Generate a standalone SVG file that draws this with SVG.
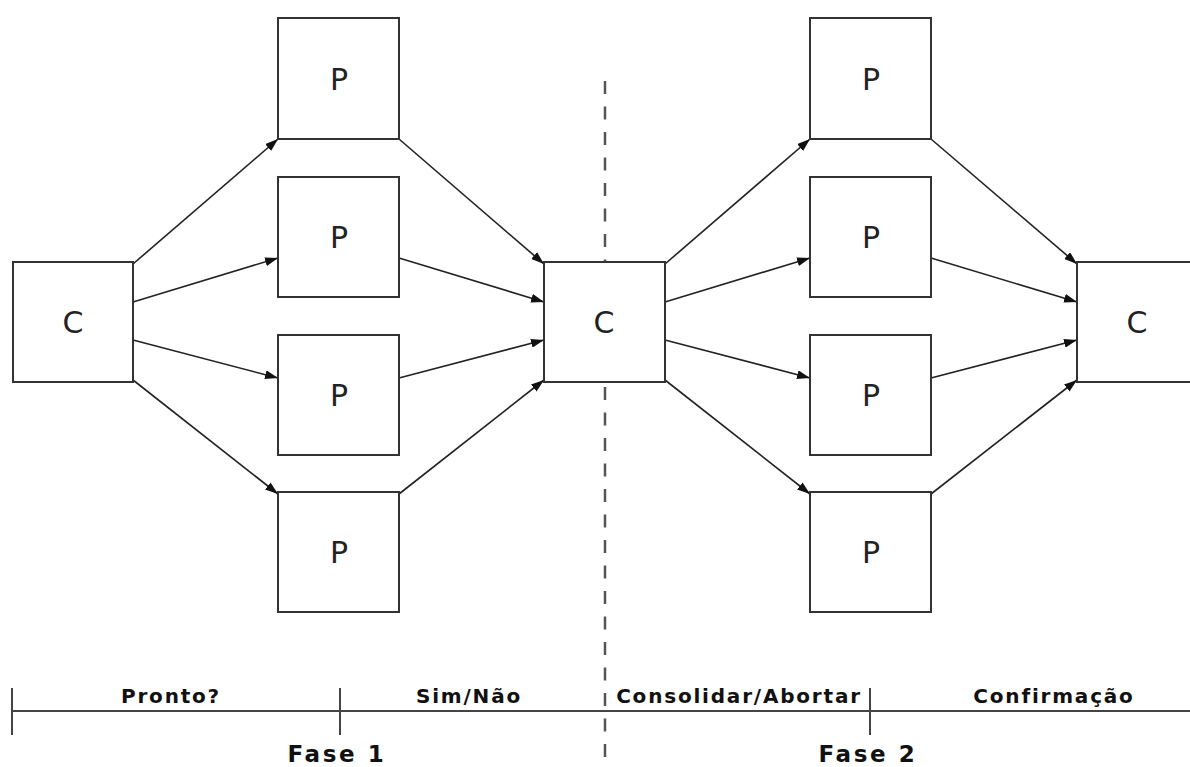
<svg xmlns="http://www.w3.org/2000/svg" width="1190" height="767" viewBox="0 0 1190 767">
  <style>
    .box { fill: #ffffff; stroke: #333333; stroke-width: 2; }
    .lbl { font-family: "DejaVu Sans", "Liberation Sans", sans-serif; font-size: 30px; fill: #222222; text-anchor: middle; }
    .edge { stroke: #222222; stroke-width: 1.6; fill: none; marker-end: url(#arrow); }
    .axis { stroke: #444444; stroke-width: 2; fill: none; }
    .phase { font-family: "DejaVu Sans", "Liberation Sans", sans-serif; font-weight: bold; font-size: 20px; letter-spacing: 1.8px; fill: #111111; text-anchor: middle; }
    .fase { font-family: "DejaVu Sans", "Liberation Sans", sans-serif; font-weight: bold; font-size: 23px; letter-spacing: 2.6px; fill: #111111; text-anchor: middle; }
    .split { stroke: #555555; stroke-width: 2.5; stroke-dasharray: 13 12.5; fill: none; }
  </style>
  <defs>
    <marker id="arrow" viewBox="0 0 13 9" refX="13" refY="4.5" markerWidth="13" markerHeight="9" markerUnits="userSpaceOnUse" orient="auto">
      <path d="M0,0 L13,4.5 L0,9 Z" fill="#111111"/>
    </marker>
  </defs>

  <rect width="1190" height="767" fill="#ffffff"/>

  <!-- phase divider -->
  <line class="split" x1="605" y1="81" x2="605" y2="767"/>

  <!-- connectors -->
  <g id="connectors">
    <!-- phase 1: coordinator to participants -->
    <line class="edge" x1="133" y1="264" x2="278" y2="139"/>
    <line class="edge" x1="133" y1="302" x2="278" y2="258"/>
    <line class="edge" x1="133" y1="340" x2="278" y2="378"/>
    <line class="edge" x1="133" y1="380" x2="278" y2="494"/>
    <!-- phase 1: participants to coordinator -->
    <line class="edge" x1="399" y1="139" x2="544" y2="264"/>
    <line class="edge" x1="399" y1="258" x2="544" y2="302"/>
    <line class="edge" x1="399" y1="378" x2="544" y2="340"/>
    <line class="edge" x1="399" y1="494" x2="544" y2="380"/>
    <!-- phase 2: coordinator to participants -->
    <line class="edge" x1="665" y1="264" x2="810" y2="139"/>
    <line class="edge" x1="665" y1="302" x2="810" y2="258"/>
    <line class="edge" x1="665" y1="340" x2="810" y2="378"/>
    <line class="edge" x1="665" y1="380" x2="810" y2="494"/>
    <!-- phase 2: participants to coordinator -->
    <line class="edge" x1="931" y1="139" x2="1077" y2="264"/>
    <line class="edge" x1="931" y1="258" x2="1077" y2="302"/>
    <line class="edge" x1="931" y1="378" x2="1077" y2="340"/>
    <line class="edge" x1="931" y1="494" x2="1077" y2="380"/>
  </g>

  <!-- coordinators -->
  <g id="c1"><rect class="box" x="13" y="262" width="120" height="120"/><text class="lbl" x="73" y="333">C</text></g>
  <g id="c2"><rect class="box" x="544" y="262" width="121" height="120"/><text class="lbl" x="604" y="333">C</text></g>
  <g id="c3"><rect class="box" x="1077" y="262" width="121" height="120"/><text class="lbl" x="1137" y="333">C</text></g>

  <!-- participants, phase 1 -->
  <g id="p1a"><rect class="box" x="278" y="18" width="121" height="121"/><text class="lbl" x="339" y="90">P</text></g>
  <g id="p1b"><rect class="box" x="278" y="177" width="121" height="120"/><text class="lbl" x="339" y="248">P</text></g>
  <g id="p1c"><rect class="box" x="278" y="335" width="121" height="120"/><text class="lbl" x="339" y="406">P</text></g>
  <g id="p1d"><rect class="box" x="278" y="492" width="121" height="120"/><text class="lbl" x="339" y="563">P</text></g>

  <!-- participants, phase 2 -->
  <g id="p2a"><rect class="box" x="810" y="18" width="121" height="121"/><text class="lbl" x="871" y="90">P</text></g>
  <g id="p2b"><rect class="box" x="810" y="177" width="121" height="120"/><text class="lbl" x="871" y="248">P</text></g>
  <g id="p2c"><rect class="box" x="810" y="335" width="121" height="120"/><text class="lbl" x="871" y="406">P</text></g>
  <g id="p2d"><rect class="box" x="810" y="492" width="121" height="120"/><text class="lbl" x="871" y="563">P</text></g>

  <!-- timeline -->
  <g id="timeline">
    <line class="axis" x1="12" y1="711" x2="1190" y2="711"/>
    <line class="axis" x1="12" y1="688" x2="12" y2="735"/>
    <line class="axis" x1="340" y1="688" x2="340" y2="735"/>
    <line class="axis" x1="870" y1="688" x2="870" y2="735"/>
    <text class="phase" x="171" y="703">Pronto?</text>
    <text class="phase" x="469" y="703">Sim/Não</text>
    <text class="phase" x="739" y="703">Consolidar/Abortar</text>
    <text class="phase" x="1054" y="703">Confirmação</text>
    <text class="fase" x="337" y="762">Fase 1</text>
    <text class="fase" x="868" y="762">Fase 2</text>
  </g>
</svg>
